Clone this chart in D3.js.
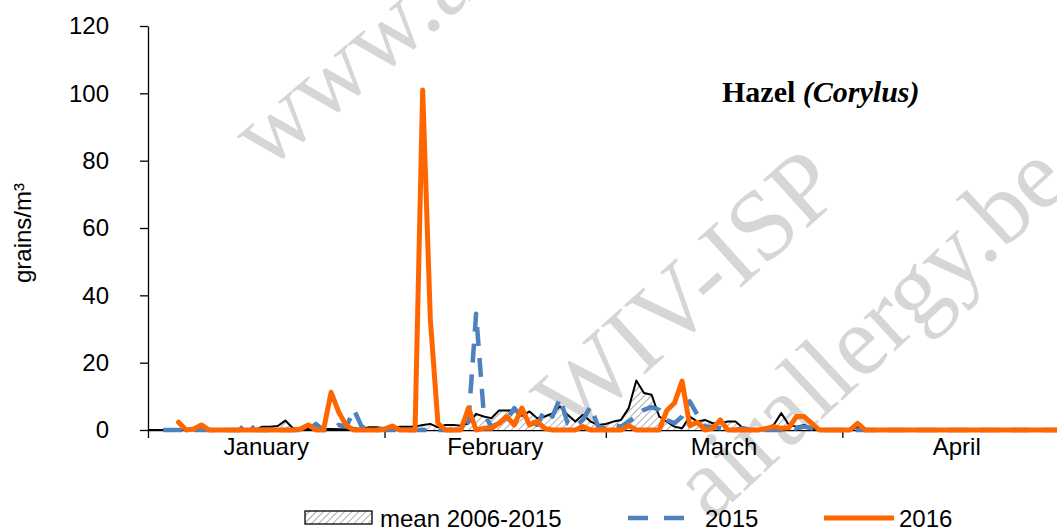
<!DOCTYPE html>
<html><head><meta charset="utf-8">
<script src="https://cdn.jsdelivr.net/npm/d3@7"></script>
<style>body{margin:0;background:#fff;} svg{display:block;}</style>
</head><body>
<svg id="chart" width="1057" height="531"></svg>
<script>
// ---- data ----
const months = ["January","February","March","April"];
const monthDays = [31,29,31,30];
const yTicks = [0,20,40,60,80,100,120];
const yTitle = "grains/m³";
const seriesNames = ["mean 2006-2015","2015","2016"];
const titleMain = "Hazel ";
const titleItalic = "(Corylus)";

const mean0615 = [
0,0,0,0,0,0,0,0,0,0,
0,0,0,0,0,1,1,1.2,2.8,0.5,
0.3,0.3,0.2,0.3,0.3,0.2,0.3,0.5,0.3,0.8,
0.8,0.5,0.5,1,1,1,1.5,1.8,0.8,1.5,
1.5,1.3,2,4.8,4,3.5,5.8,5.8,5.8,4.2,
5.5,3.5,4,4.9,7,4.5,2.5,4.5,2.5,1.5,
1.8,2.5,3,6.5,14.7,11,10.5,4,2.5,1,
0.5,4,2.5,3,2,2,2.5,2.5,0.5,0,
0,0.5,1.5,5,1.5,1,1.5,0.5,0,0,
0,0,0,0.8,0,0,0,0,0,0,
0,0,0,0,0,0,0,0,0,0,
0,0,0,0,0,0,0,0,0,0,
0];

const y2015 = [
null,null,0,0,0,0,0,0,0,0,
0,0,0,2.3,0,0,0,0,0,0,
0,0,1.8,0,0,1.5,1,6,1,0,
0,0,0,0,0,0,0,0,0,0,
0,0,2.5,34.5,5,1,2,3,6.5,4,
3,1.5,6,4,9.5,2,1,3,7,1,
0.5,1.5,1,2.5,4,6,6.8,6,3,2,
4,8.5,4.5,1,1,0.5,0,0,0.5,0,
0,0,0,0,0.3,0.5,1,0.5,0,0,
0,0,0,0,0,0,0,0,0,0,
0,0,0,0,0,0,0,0,0,0,
0,0,0,0,0,0,0,0,0,0,
0];

const y2016 = [
null,null,null,null,2.3,0,0.3,1.5,0,0,
0,0,0,0,0,0,0,0,0,0,
0.3,1.5,0,0,11.2,5.3,1.3,0,0,0,
0,0.3,1.2,0,0,0,101,33,2,0,
0,0,6.5,0,0.5,0.5,2,4,1.5,6.5,
1.5,2.5,0.5,0,0,0,0,1,0,0,
0,0,0,1.3,0,0,0,0,5.8,8,
14.5,1.3,2.3,0,0.5,3,0,0,0,0,
0,0.5,1,0.5,0.7,4,4,2,0,0,
0,0,0,2,0,0,0,0,0,0,
0,0,0,0,0,0,0,0,0,0,
0,0,0,0,0,0,0,0,0,0,
0];

// ---- layout ----
const svg = d3.select("#chart");
const nDays = d3.sum(monthDays);
const x = d3.scaleLinear().domain([0, nDays]).range([148, 148 + nDays * 7.63]);
const y = d3.scaleLinear().domain([0, 120]).range([430, 26]);
const sans = "'Liberation Sans', Arial, sans-serif";
const serif = "'Liberation Serif', 'Times New Roman', serif";
const orange = "#ff6600", blue = "#4f81bd";

const defs = svg.append("defs");
const pat = defs.append("pattern").attr("id","hatch").attr("patternUnits","userSpaceOnUse")
  .attr("width",5).attr("height",5).attr("patternTransform","rotate(45)");
pat.append("rect").attr("width",5).attr("height",5).attr("fill","#fff");
pat.append("line").attr("x1",0).attr("y1",0).attr("x2",0).attr("y2",5)
  .attr("stroke","#8a8a8a").attr("stroke-width",1.4);

// watermark (drawn first, faint)
const wm = svg.append("g").attr("font-family",serif).attr("font-size",100)
  .attr("fill","#8c8c8c").attr("fill-opacity",0.36).attr("pointer-events","none");
wm.append("text").attr("transform","translate(266,172) rotate(-40)").text("www.a");
wm.append("text").attr("transform","translate(572,440) rotate(-42)").text("WIV-ISP");
wm.append("text").attr("transform","translate(1072,186) rotate(-43)").attr("text-anchor","end").text("airallergy.be");

// y axis
const yAxis = d3.axisLeft(y).tickValues(yTicks).tickSize(8).tickSizeOuter(0).tickPadding(31);
const gy = svg.append("g").attr("transform","translate(148,0)").call(yAxis);
gy.select(".domain").attr("stroke","#000").attr("stroke-width",1.3);
gy.selectAll(".tick line").attr("stroke","#000").attr("stroke-width",1.3);
gy.selectAll("text").attr("font-family",sans).attr("font-size",24).attr("fill","#000");

// x axis (month boundaries)
const bounds = [0]; monthDays.forEach((d,i)=>bounds.push(bounds[i]+d));
const xAxis = d3.axisBottom(x).tickValues(bounds).tickSize(8).tickSizeOuter(0).tickFormat("");
const gx = svg.append("g").attr("transform","translate(0,430)").call(xAxis);
gx.select(".domain").attr("stroke","#000").attr("stroke-width",1.3);
gx.selectAll(".tick line").attr("stroke","#000").attr("stroke-width",1.3);
svg.append("g").selectAll("text").data(months).join("text")
  .attr("x",(d,i)=>x((bounds[i]+bounds[i+1])/2)).attr("y",455)
  .attr("text-anchor","middle").attr("font-family",sans).attr("font-size",24).attr("fill","#000")
  .text(d=>d);

// y title
svg.append("text").attr("transform","translate(31,233) rotate(-90)")
  .attr("text-anchor","middle").attr("font-family",sans).attr("font-size",24).attr("fill","#000")
  .text(yTitle);

// mean area
const idx = d3.range(nDays);
const area = d3.area().x(i=>x(i)).y0(y(0)).y1(i=>y(mean0615[i]));
svg.append("path").datum(idx).attr("d",area).attr("fill","url(#hatch)");
const lineOf = arr => d3.line().defined(i=>arr[i]!=null).x(i=>x(i)).y(i=>y(arr[i]));
svg.append("path").datum(idx).attr("d",lineOf(mean0615)).attr("fill","none")
  .attr("stroke","#000").attr("stroke-width",2).attr("stroke-linejoin","round");
svg.append("path").datum(idx).attr("d",lineOf(y2015)).attr("fill","none")
  .attr("stroke",blue).attr("stroke-width",4.5).attr("stroke-dasharray","19,12").attr("stroke-linejoin","round");
svg.append("path").datum(idx).attr("d",lineOf(y2016)).attr("fill","none")
  .attr("stroke",orange).attr("stroke-width",5).attr("stroke-linejoin","round").attr("stroke-linecap","round");

// title
const t = svg.append("text").attr("x",722).attr("y",102).attr("font-family",serif)
  .attr("font-size",30).attr("font-weight","bold").attr("fill","#000");
t.append("tspan").text(titleMain);
t.append("tspan").attr("font-style","italic").text(titleItalic);

// legend
const lg = svg.append("g").attr("font-family",sans).attr("font-size",24).attr("fill","#000");
lg.append("rect").attr("x",305).attr("y",511).attr("width",67).attr("height",13)
  .attr("fill","url(#hatch)").attr("stroke","#000").attr("stroke-width",1.3);
lg.append("text").attr("x",380).attr("y",527).text(seriesNames[0]);
lg.append("line").attr("x1",628).attr("x2",684).attr("y1",518).attr("y2",518)
  .attr("stroke",blue).attr("stroke-width",4.5).attr("stroke-dasharray","20,16");
lg.append("text").attr("x",705).attr("y",527).text(seriesNames[1]);
lg.append("line").attr("x1",824).attr("x2",894).attr("y1",518).attr("y2",518)
  .attr("stroke",orange).attr("stroke-width",5);
lg.append("text").attr("x",899).attr("y",527).text(seriesNames[2]);
</script>
</body></html>
